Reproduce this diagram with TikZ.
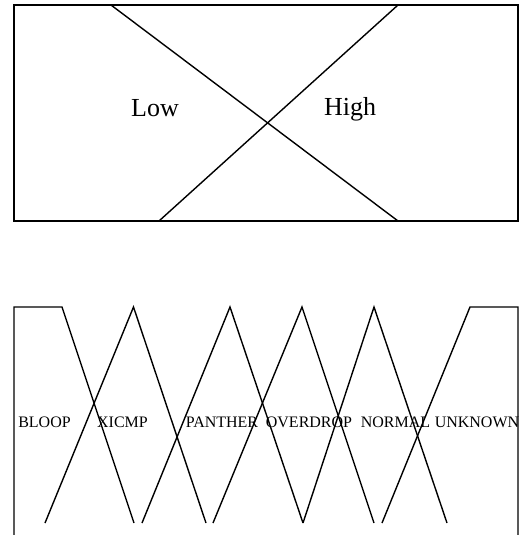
\documentclass[tikz,border=0pt]{standalone}
\usepackage{fontspec}
\setmainfont{Liberation Serif}

\begin{document}
\begin{tikzpicture}[
    x=1pt, y=-1pt,
    curve/.style={black, line width=1.4pt, line join=miter},
    big/.style={font=\fontsize{26}{30}\selectfont, inner sep=0pt, anchor=base},
    lbl/.style={font=\fontsize{16}{18}\selectfont, inner sep=0pt, anchor=base},
  ]
    \useasboundingbox (0,0) rectangle (519,535);
    % ---- top: two classes ----
    \draw[curve] (14,5) rectangle (518,221);
    \draw[curve] (111,5) -- (398,221);
    \draw[curve] (159,221) -- (398,5);
    \node[big] (low)  at (155,116) {Low};
    \node[big] (high) at (350,115) {High};
    % ---- bottom: six classes ----
    \draw[curve] (14,535) -- (14,307) -- (62,307) -- (134,523);
    \draw[curve] (45,523) -- (133.5,307) -- (206,523);
    \draw[curve] (142,523) -- (230,307) -- (303,523);
    \draw[curve] (213,523) -- (302,307) -- (374,523);
    \draw[curve] (303,523) -- (374,307) -- (447,523);
    \draw[curve] (382,523) -- (470,307) -- (518,307) -- (518,535);
    % ---- labels ----
    \node[lbl] (bloop)    at (44.5,427)  {BLOOP};
    \node[lbl] (xicmp)    at (122.5,427) {XICMP};
    \node[lbl] (panther)  at (222,427)   {PANTHER};
    \node[lbl] (overdrop) at (309,427)   {OVERDROP};
    \node[lbl] (normal)   at (395.5,427) {NORMAL};
    \node[lbl] (unknown)  at (477,427)   {UNKNOWN};
  \end{tikzpicture}
\end{document}
